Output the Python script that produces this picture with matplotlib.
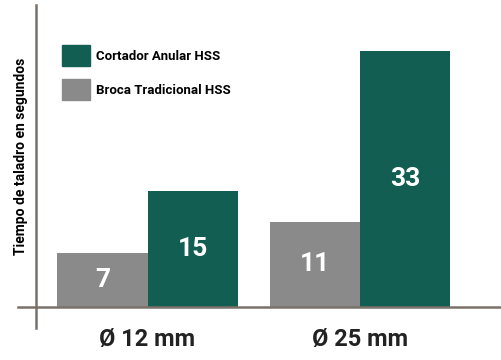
import matplotlib.pyplot as plt
from matplotlib.lines import Line2D
from matplotlib.patches import Patch

sizes = ['Ø 12 mm', 'Ø 25 mm']
broca = [7, 11]
cortador = [15, 33]
series_names = ['Cortador Anular HSS', 'Broca Tradicional HSS']

green = '#125e52'
grey = '#8a8a8a'
axis_col = '#7a716a'
font = ['Roboto', 'DejaVu Sans']

fig = plt.figure(figsize=(5.01, 3.6), dpi=100)
ax = fig.add_axes([36 / 501, 53 / 360, 465 / 501, 302 / 360])

w = 0.424
x = [0, 1]
b1 = ax.bar([i - w / 2 for i in x], broca, w, color=grey)
b2 = ax.bar([i + w / 2 for i in x], cortador, w, color=green)

for bars, vals in ((b1, broca), (b2, cortador)):
    for r, v in zip(bars, vals):
        ax.text(r.get_x() + r.get_width() / 2, v / 2, str(v), ha='center', va='center',
                color='white', fontsize=19, fontweight='bold', family=font)

ax.set_xlim(-0.525, 1.664)
ax.set_ylim(0, 38.9)
ax.set_xticks(x)
ax.set_xticklabels(sizes, fontsize=17, fontweight='bold', family=font, color='#222222')
ax.tick_params(axis='x', length=0, pad=15)
ax.set_yticks([])
for s in ax.spines.values():
    s.set_visible(False)

# axis lines run a little past the origin
ax.add_line(Line2D([-18 / 465, 1], [0, 0], transform=ax.transAxes, color=axis_col, lw=1.8, clip_on=False))
ax.add_line(Line2D([0, 0], [-21 / 302, 1], transform=ax.transAxes, color=axis_col, lw=1.8, clip_on=False))

ax.set_ylabel('Tiempo de taladro en segundos', fontsize=10, fontweight='bold', family=font, labelpad=6)

handles = [Patch(color=green), Patch(color=grey)]
leg = ax.legend(handles, series_names, loc='upper left', bbox_to_anchor=(26 / 465, 262 / 302),
                frameon=False, borderpad=0, borderaxespad=0, handlelength=2.1, handleheight=2.1,
                labelspacing=0.95, handletextpad=0.5,
                prop={'family': font, 'size': 9.5, 'weight': 'bold'})

fig.savefig('out.png', dpi=100)
